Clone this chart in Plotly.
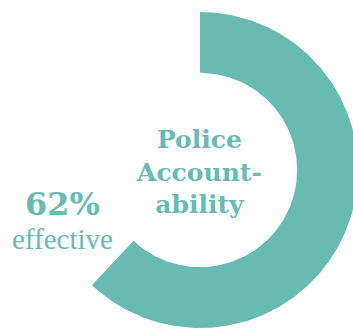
import numpy as np
import plotly.graph_objects as go

# Share of police accountability rated effective
label_lines = ["Police", "Account-", "ability"]
share_effective = [0.62]
value_label = "62%"
value_caption = "effective"

TEAL = "#67bbb1"
W, H = 353, 329
CX, CY, R_OUT, HOLE = 200.0, 170.0, 158.0, 0.615  # ring geometry in px

# Ring segment in unit coordinates (outer radius = 1), clockwise from 12 o'clock
frac = share_effective[0]
theta = np.linspace(0, 2 * np.pi * frac, 300)
outer_x, outer_y = np.sin(theta), np.cos(theta)
inner_x, inner_y = HOLE * np.sin(theta[::-1]), HOLE * np.cos(theta[::-1])
ring_x = np.concatenate([outer_x, inner_x, outer_x[:1]])
ring_y = np.concatenate([outer_y, inner_y, outer_y[:1]])

fig = go.Figure(
    go.Scatter(
        x=ring_x, y=ring_y, mode="lines", fill="toself",
        fillcolor=TEAL, line=dict(width=0, color=TEAL),
        hoverinfo="skip", showlegend=False,
    )
)

# axes scaled so one unit equals R_OUT pixels, ring centre at (CX, CY)
fig.update_xaxes(range=[-CX / R_OUT, (W - CX) / R_OUT], visible=False, fixedrange=True)
fig.update_yaxes(range=[-(H - CY) / R_OUT, CY / R_OUT], visible=False, fixedrange=True)


def px_x(v):
    return v / W


def px_y(v):
    return 1 - v / H


annotations = [
    dict(
        text="<br>".join(label_lines), x=px_x(199), y=px_y(172),
        font=dict(family="DejaVu Serif", size=25, color=TEAL, weight="bold"),
    ),
    dict(
        text=value_label, x=px_x(63), y=px_y(204),
        font=dict(family="DejaVu Serif", size=32, color=TEAL, weight="bold"),
    ),
    dict(
        text=value_caption, x=px_x(63), y=px_y(239),
        font=dict(family="Liberation Serif", size=29, color=TEAL),
    ),
]
for a in annotations:
    a.update(xref="paper", yref="paper", xanchor="center", yanchor="middle", showarrow=False)

fig.update_layout(
    width=W, height=H,
    margin=dict(l=0, r=0, t=0, b=0),
    paper_bgcolor="white", plot_bgcolor="white",
    annotations=annotations,
    showlegend=False,
)

fig.write_html("out.html", config={"displayModeBar": False})
